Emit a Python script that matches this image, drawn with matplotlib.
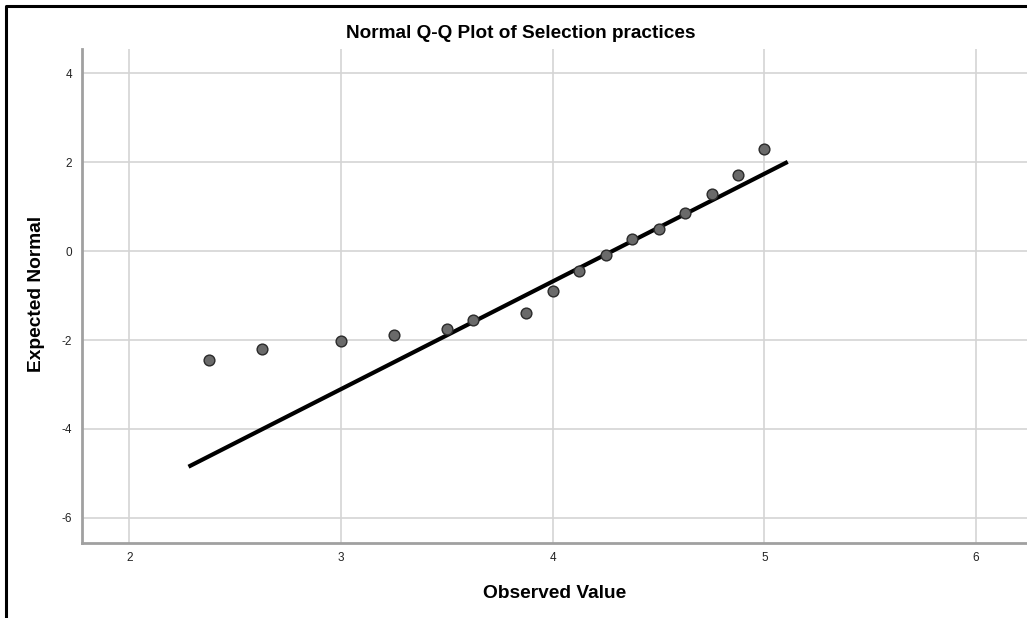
import matplotlib.pyplot as plt
from matplotlib.lines import Line2D

plt.rcParams['font.family'] = ['Liberation Sans', 'DejaVu Sans']
plt.rcParams['axes.unicode_minus'] = False

# observed values and expected normal scores
observed = [2.375, 2.625, 3.0, 3.25, 3.5, 3.625, 3.875, 4.0,
            4.125, 4.25, 4.375, 4.5, 4.625, 4.75, 4.875, 5.0]
expected = [-2.45, -2.19, -2.02, -1.89, -1.75, -1.54, -1.39, -0.90,
            -0.45, -0.09, 0.28, 0.51, 0.86, 1.28, 1.71, 2.29]

# reference line end points
line_x = [2.28, 5.11]
line_y = [-4.85, 2.01]

xticks = [2, 3, 4, 5, 6]
yticks = [-6, -4, -2, 0, 2, 4]

fig = plt.figure(figsize=(10.27, 6.18), dpi=100)
ax = fig.add_axes([82/1027, 1 - 542.7/618, 1 - 82/1027, (542.7 - 49)/618])

ax.grid(True, color='#d4d4d4', linewidth=1.2, zorder=0)
ax.set_axisbelow(True)
ax.plot(line_x, line_y, color='black', linewidth=3, solid_capstyle='butt', zorder=3)
ax.scatter(observed, expected, s=60, color='#6a6a6a', edgecolor='#2a2a2a',
           linewidth=1, zorder=4)

ax.set_xlim(1.777, 6.24)
ax.set_ylim(-6.56, 4.55)
ax.set_xticks(xticks)
ax.set_yticks(yticks)
ax.tick_params(length=0, labelsize=8.5, colors='#222222', pad=7)

for s in ['top', 'right']:
    ax.spines[s].set_visible(False)
for s in ['left', 'bottom']:
    ax.spines[s].set_color('#a0a0a0')
    ax.spines[s].set_linewidth(2)

fig.text(521/1027, 1 - 34/618, 'Normal Q-Q Plot of Selection practices',
         ha='center', va='center', fontsize=13.7, fontweight='bold')
fig.text(555/1027, 1 - 593/618, 'Observed Value',
         ha='center', va='center', fontsize=13.8, fontweight='bold')
fig.text(37/1027, 1 - 294/618, 'Expected Normal', rotation=90,
         ha='center', va='center', fontsize=13.8, fontweight='bold')

# outer frame (left and top only, like the cropped screenshot)
fig.add_artist(Line2D([5.5/1027, 5.5/1027, 1], [0, 1 - 5.5/618, 1 - 5.5/618],
                      transform=fig.transFigure, color='black', linewidth=2.2))

fig.savefig('out.png', dpi=100)
